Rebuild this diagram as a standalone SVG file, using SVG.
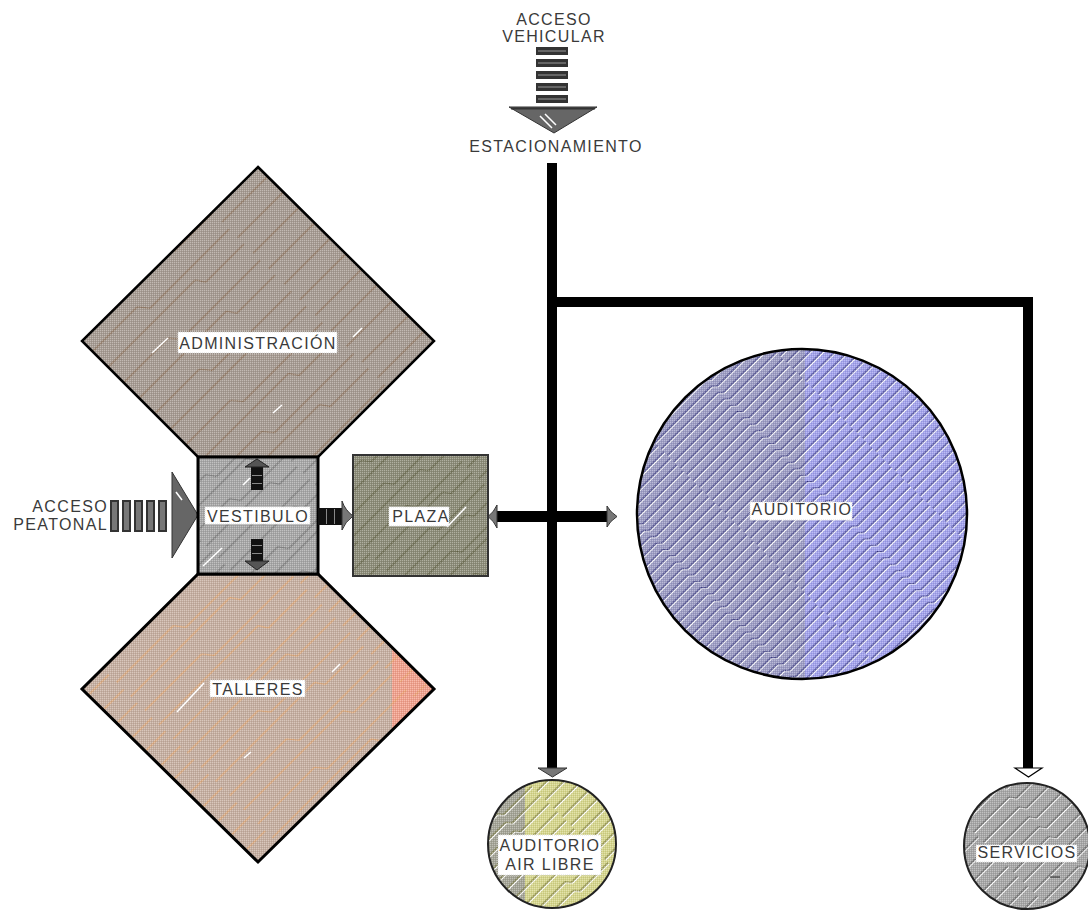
<svg xmlns="http://www.w3.org/2000/svg" width="1088" height="915" viewBox="0 0 1088 915">
  <style>
    .lbl { font-family: "Liberation Sans", Arial, sans-serif; font-size: 16px; fill: #3a3a3a; letter-spacing: 1.35px; }
    .mid { text-anchor: middle; }
    .box { fill: #fff; stroke: #ddd; stroke-width: 1; stroke-dasharray: 1 1; }
    .edge { fill: none; stroke: #000; stroke-width: 10; }
    .hl { stroke: #fff; stroke-width: 1.5; fill: none; }
  </style>
  <defs>
    <!-- fine stipple used on all shaded areas -->
    <pattern id="stip" width="2" height="2" patternUnits="userSpaceOnUse">
      <rect x="0" y="0" width="1" height="1" fill="#fff" fill-opacity="0.3"/>
      <rect x="1" y="1" width="1" height="1" fill="#000" fill-opacity="0.08"/>
    </pattern>
    <!-- stepped diagonal hatching, one per material -->
    <pattern id="hAdm" width="190" height="44" patternUnits="userSpaceOnUse" patternTransform="rotate(-45)">
      <path d="M0,6 H70 L78,16 H190" fill="none" stroke="#8a6a50" stroke-width="1"/>
      <path d="M0,28 H130 L136,37 H190" fill="none" stroke="#8a6a50" stroke-width="1"/>
    </pattern>
    <pattern id="hVes" width="120" height="34" patternUnits="userSpaceOnUse" patternTransform="rotate(-45)">
      <path d="M0,5 H50 L56,14 H120" fill="none" stroke="#6e6e6e" stroke-width="1"/>
      <path d="M0,22 H90 L95,30 H120" fill="none" stroke="#6e6e6e" stroke-width="1"/>
    </pattern>
    <pattern id="hTal" width="200" height="40" patternUnits="userSpaceOnUse" patternTransform="rotate(-45)">
      <path d="M0,5 H80 L88,15 H200" fill="none" stroke="#eaa566" stroke-width="1"/>
      <path d="M0,25 H140 L146,34 H200" fill="none" stroke="#eaa566" stroke-width="1"/>
    </pattern>
    <pattern id="hPla" width="130" height="32" patternUnits="userSpaceOnUse" patternTransform="rotate(-45)">
      <path d="M0,5 H60 L66,13 H130" fill="none" stroke="#5e5e40" stroke-width="1"/>
      <path d="M0,21 H95 L100,28 H130" fill="none" stroke="#5e5e40" stroke-width="1"/>
    </pattern>
    <pattern id="hAud" width="150" height="9" patternUnits="userSpaceOnUse" patternTransform="rotate(-45)">
      <path d="M0,2 H80 L84,6 H150" fill="none" stroke="#2e2e78" stroke-width="1"/>
      <path d="M0,3.5 H80 L84,7.5 H150" fill="none" stroke="#fff" stroke-width="1"/>
    </pattern>
    <pattern id="hAir" width="90" height="12" patternUnits="userSpaceOnUse" patternTransform="rotate(-45)">
      <path d="M0,3 H46 L50,8 H90" fill="none" stroke="#6e6e30" stroke-width="1"/>
      <path d="M0,4.5 H46 L50,9.5 H90" fill="none" stroke="#fff" stroke-width="1"/>
    </pattern>
    <pattern id="hSer" width="100" height="14" patternUnits="userSpaceOnUse" patternTransform="rotate(-45)">
      <path d="M0,3 H50 L54,9 H100" fill="none" stroke="#505050" stroke-width="1"/>
      <path d="M0,4.5 H50 L54,10.5 H100" fill="none" stroke="#fff" stroke-width="1"/>
    </pattern>
    <clipPath id="cAud"><circle cx="802" cy="514" r="165"/></clipPath>
    <clipPath id="cAir"><circle cx="552" cy="844" r="64"/></clipPath>
    <clipPath id="cTal"><polygon points="198,574 318,574 434,689 258,862 82,689"/></clipPath>
  </defs>

  <!-- circulation lines -->
  <g id="connectors">
    <line class="edge" x1="552" y1="163" x2="552" y2="769"/>
    <polyline class="edge" points="547,302 1028,302 1028,769"/>
    <line x1="497" y1="516.5" x2="608" y2="516.5" stroke="#000" stroke-width="11"/>
    <!-- arrowheads -->
    <polygon points="538,768 567,768 552.5,777" fill="#777" stroke="#333" stroke-width="1"/>
    <polygon points="1015,768 1042,768 1028.5,777" fill="#fff" stroke="#000" stroke-width="1.2"/>
    <path d="M497,505 Q494,512 488,516.5 Q494,521 497,528 Z" fill="#777" stroke="#333" stroke-width="1"/>
    <path d="M607,506 Q610,512 617,516.5 Q610,521 607,527 Z" fill="#777" stroke="#333" stroke-width="1"/>
  </g>

  <!-- vehicle access -->
  <g id="acceso-vehicular">
    <text class="lbl mid" x="554" y="25">ACCESO</text>
    <text class="lbl mid" x="554" y="42">VEHICULAR</text>
    <g fill="#333">
      <rect x="536" y="47" width="32" height="8"/>
      <rect x="536" y="59" width="32" height="8"/>
      <rect x="536" y="71" width="32" height="8"/>
      <rect x="536" y="83" width="32" height="8"/>
      <rect x="536" y="95" width="32" height="8"/>
    </g>
    <g stroke="#999" stroke-width="1">
      <line x1="538" y1="51" x2="566" y2="51"/>
      <line x1="538" y1="63" x2="566" y2="63"/>
      <line x1="538" y1="75" x2="566" y2="75"/>
      <line x1="538" y1="87" x2="566" y2="87"/>
      <line x1="538" y1="99" x2="566" y2="99"/>
    </g>
    <polygon points="509,107 597,107 554,133" fill="#666" stroke="#333" stroke-width="1"/>
    <line x1="511" y1="108.5" x2="595" y2="108.5" stroke="#333" stroke-width="2"/>
    <path d="M540,116 L552,128 M545,114 L556,125" class="hl" stroke-width="1"/>
    <text class="lbl mid" x="556" y="152">ESTACIONAMIENTO</text>
  </g>

  <!-- pedestrian access -->
  <g id="acceso-peatonal">
    <text class="lbl" x="108" y="512" text-anchor="end">ACCESO</text>
    <text class="lbl" x="108" y="530" text-anchor="end">PEATONAL</text>
    <g fill="#333">
      <rect x="110" y="500" width="9" height="32"/>
      <rect x="122" y="500" width="9" height="32"/>
      <rect x="134" y="500" width="9" height="32"/>
      <rect x="146" y="500" width="9" height="32"/>
      <rect x="158" y="500" width="9" height="32"/>
    </g>
    <g fill="#777">
      <rect x="112" y="502" width="5" height="28"/>
      <rect x="124" y="502" width="5" height="28"/>
      <rect x="136" y="502" width="5" height="28"/>
      <rect x="148" y="502" width="5" height="28"/>
      <rect x="160" y="502" width="5" height="28"/>
    </g>
    <polygon points="172,472 198,515 172,558" fill="#666" stroke="#333" stroke-width="1"/>
    <path d="M176,492 L182,500" class="hl" stroke-width="1"/>
  </g>

  <!-- administration -->
  <g id="administracion">
    <polygon points="258,167 434,341 318,457 198,457 82,341" fill="#a69b92"/>
    <polygon points="258,167 434,341 318,457 198,457 82,341" fill="url(#hAdm)"/>
    <polygon points="258,167 434,341 318,457 198,457 82,341" fill="url(#stip)" stroke="#000" stroke-width="2.5"/>
    <path d="M152,353 L168,338 M353,337 L362,328 M273,413 L282,405" class="hl"/>
    <rect class="box" x="178" y="332" width="159" height="21"/>
    <text class="lbl mid" x="258" y="349">ADMINISTRACIÓN</text>
  </g>

  <!-- workshops -->
  <g id="talleres">
    <polygon points="198,574 318,574 434,689 258,862 82,689" fill="#c6afa1"/>
    <polygon points="392,648 434,689 392,731" clip-path="url(#cTal)" fill="#f0a08c"/>
    <polygon points="198,574 318,574 434,689 258,862 82,689" fill="url(#hTal)"/>
    <polygon points="198,574 318,574 434,689 258,862 82,689" fill="url(#stip)" stroke="#000" stroke-width="3"/>
    <path d="M177,712 L204,683 M332,672 L340,664 M244,758 L251,752" class="hl"/>
    <rect class="box" x="210" y="680" width="95" height="17"/>
    <text class="lbl mid" x="258" y="695">TALLERES</text>
  </g>

  <!-- lobby -->
  <g id="vestibulo">
    <rect x="198" y="457" width="120" height="117" fill="#a6a6a6"/>
    <rect x="198" y="457" width="120" height="117" fill="url(#hVes)"/>
    <rect x="198" y="457" width="120" height="117" fill="url(#stip)" stroke="#000" stroke-width="3"/>
    <path d="M203,566 L222,548 M243,485 L250,478" class="hl"/>
    <!-- inner arrows: up, down, right -->
    <rect x="251" y="467" width="12" height="23" fill="#111"/>
    <line x1="252" y1="475.5" x2="262" y2="475.5" stroke="#888" stroke-width="1"/>
    <line x1="252" y1="483.5" x2="262" y2="483.5" stroke="#888" stroke-width="1"/>
    <polygon points="245,467 269,467 257,459" fill="#555" stroke="#222" stroke-width="1"/>
    <rect x="251" y="539" width="12" height="22" fill="#111"/>
    <line x1="252" y1="545.5" x2="262" y2="545.5" stroke="#888" stroke-width="1"/>
    <line x1="252" y1="553.5" x2="262" y2="553.5" stroke="#888" stroke-width="1"/>
    <polygon points="245,561 269,561 257,570" fill="#555" stroke="#222" stroke-width="1"/>
    <rect x="318" y="508" width="24" height="17" fill="#111"/>
    <line x1="326.5" y1="509" x2="326.5" y2="524" stroke="#888" stroke-width="1"/>
    <line x1="334.5" y1="509" x2="334.5" y2="524" stroke="#888" stroke-width="1"/>
    <path d="M342,501 Q345,510 353,516 Q345,522 342,530 Z" fill="#777" stroke="#333" stroke-width="1"/>
    <rect class="box" x="205" y="507" width="105" height="17"/>
    <text class="lbl mid" x="258" y="521.5">VESTIBULO</text>
  </g>

  <!-- plaza -->
  <g id="plaza">
    <rect x="353" y="455" width="135" height="121" fill="#8c8c78"/>
    <rect x="353" y="455" width="135" height="121" fill="url(#hPla)"/>
    <rect x="353" y="455" width="135" height="121" fill="url(#stip)" stroke="#333" stroke-width="2"/>
    <path d="M447,527 L466,507" class="hl"/>
    <rect class="box" x="389" y="507" width="60" height="19"/>
    <text class="lbl mid" x="421" y="521.5">PLAZA</text>
  </g>

  <!-- auditorium -->
  <g id="auditorio">
    <circle cx="802" cy="514" r="165" fill="#9c9cc4"/>
    <rect x="805" y="340" width="170" height="350" fill="#a2a2ec" clip-path="url(#cAud)"/>
    <circle cx="802" cy="514" r="165" fill="url(#hAud)"/>
    <circle cx="802" cy="514" r="165" fill="url(#stip)" stroke="#000" stroke-width="2.5"/>
    <rect class="box" x="750" y="502" width="102" height="18"/>
    <text class="lbl mid" x="802" y="515">AUDITORIO</text>
  </g>

  <!-- open-air auditorium -->
  <g id="auditorio-air-libre">
    <circle cx="552" cy="844" r="64" fill="#d6d68c"/>
    <rect x="480" y="770" width="45" height="150" fill="#a4a496" clip-path="url(#cAir)"/>
    <circle cx="552" cy="844" r="64" fill="url(#hAir)"/>
    <circle cx="552" cy="844" r="64" fill="url(#stip)" stroke="#222" stroke-width="2"/>
    <rect class="box" x="498" y="835" width="103" height="40"/>
    <text class="lbl mid" x="550" y="851">AUDITORIO</text>
    <text class="lbl mid" x="550" y="870">AIR LIBRE</text>
  </g>

  <!-- services -->
  <g id="servicios">
    <circle cx="1027" cy="846" r="63" fill="#a6a6a6"/>
    <circle cx="1027" cy="846" r="63" fill="url(#hSer)"/>
    <circle cx="1027" cy="846" r="63" fill="url(#stip)" stroke="#222" stroke-width="2"/>
    <line x1="1050" y1="877" x2="1060" y2="877" stroke="#222" stroke-width="1"/>
    <rect class="box" x="976" y="845" width="101" height="17"/>
    <text class="lbl mid" x="1027" y="858">SERVICIOS</text>
  </g>
</svg>
